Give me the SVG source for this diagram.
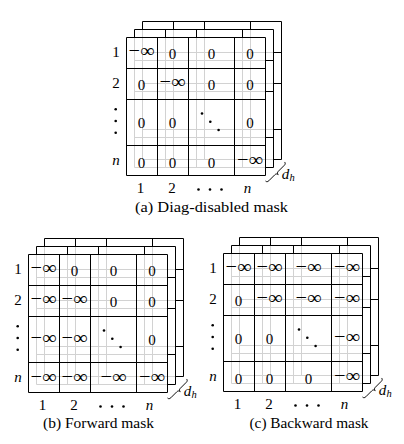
<svg xmlns="http://www.w3.org/2000/svg" width="404" height="444" viewBox="0 0 404 444" font-family="Liberation Serif, serif">
<style>
.k{fill:none;stroke:#000;stroke-width:1}
.g{fill:none;stroke:#d2d2d2;stroke-width:1}
.w{fill:#fff;stroke:none}
text{font-family:"Liberation Serif",serif}
.t{font-size:15px;text-anchor:middle;fill:#000}
.m{font-size:19px}
.i{font-style:italic}
.s{font-size:10.5px;text-anchor:start}
.cap{font-size:15.5px}
.br{fill:none;stroke:#000;stroke-width:0.9}
</style>
<defs>
<rect id="box" x="0.5" y="0.5" width="139" height="138"/>
<path id="grid" d="M0.5 0.5H139.5V138.5H0.5Z M31.5 0.5V138.5 M62.5 0.5V138.5 M108.5 0.5V138.5 M0.5 31.5H139.5 M0.5 62.5H139.5 M0.5 108.5H139.5"/>
<clipPath id="clip" clipPathUnits="userSpaceOnUse"><rect x="0" y="0" width="140" height="139"/></clipPath>
<g id="stack">
  <use href="#grid" class="k" transform="translate(16,-16)"/>
  <g transform="translate(8,-8)">
    <use href="#box" class="w"/>
    <g clip-path="url(#clip)"><use href="#grid" class="g" transform="translate(8,-8)"/></g>
    <use href="#grid" class="k"/>
  </g>
  <use href="#box" class="w"/>
  <g clip-path="url(#clip)">
    <use href="#grid" class="g" transform="translate(16,-16)"/>
    <use href="#grid" class="g" transform="translate(8,-8)"/>
  </g>
  <use href="#grid" class="k"/>
</g>
<g id="axes">
  <text class="t" x="-10" y="20">1</text>
  <text class="t" x="-10" y="51">2</text>
  <circle cx="-10.3" cy="72.3" r="1.3"/><circle cx="-10.3" cy="84" r="1.3"/><circle cx="-10.3" cy="95.7" r="1.3"/>
  <text class="t i" x="-10" y="128">n</text>
  <text class="t" x="14.5" y="156">1</text>
  <text class="t" x="46" y="156">2</text>
  <circle cx="72.5" cy="152.5" r="1.3"/><circle cx="84" cy="152.5" r="1.3"/><circle cx="95.5" cy="152.5" r="1.3"/>
  <text class="t i" x="121.5" y="156">n</text>
  <circle cx="76" cy="76.5" r="1.3"/><circle cx="84.3" cy="84.8" r="1.3"/><circle cx="92.6" cy="93" r="1.3"/>
  <path class="br" transform="translate(139.5,144) rotate(-45)" d="M0 0C0 1.5 1 2.2 2.5 2.2L11 2.2C12.5 2.2 13.4 3 13.45 4.5C13.5 3 14.4 2.2 15.9 2.2L24.4 2.2C25.9 2.2 26.9 1.5 26.9 0"/>
  <text class="t i" x="159.5" y="141.5">d</text>
  <text class="t i s" x="163.5" y="144">h</text>
</g>
</defs>

<g id="panel-a" transform="translate(126,37)">
  <use href="#stack"/>
  <use href="#axes"/>
  <g id="cells-a">
    <text class="t m" x="15.5" y="20.3" textLength="26" lengthAdjust="spacingAndGlyphs">−∞</text>
    <text class="t" x="46.5" y="21.5">0</text><text class="t" x="85.5" y="21.5">0</text><text class="t" x="124" y="21.5">0</text>
    <text class="t" x="15.5" y="52.5">0</text>
    <text class="t m" x="46.5" y="51.3" textLength="26" lengthAdjust="spacingAndGlyphs">−∞</text>
    <text class="t" x="85.5" y="52.5">0</text><text class="t" x="124" y="52.5">0</text>
    <text class="t" x="15.5" y="91">0</text><text class="t" x="46.5" y="91">0</text><text class="t" x="124" y="91">0</text>
    <text class="t" x="15.5" y="131">0</text><text class="t" x="46.5" y="131">0</text><text class="t" x="85.5" y="131">0</text>
    <text class="t m" x="124" y="128.8" textLength="26" lengthAdjust="spacingAndGlyphs">−∞</text>
  </g>
</g>
<text id="cap-a" class="t cap" x="211.5" y="211.5" textLength="153" lengthAdjust="spacingAndGlyphs">(a) Diag-disabled mask</text>

<g id="panel-b" transform="translate(28,254)">
  <use href="#stack"/>
  <use href="#axes"/>
  <g id="cells-b">
    <text class="t m" x="15.5" y="20.3" textLength="26" lengthAdjust="spacingAndGlyphs">−∞</text>
    <text class="t" x="46.5" y="21.5">0</text><text class="t" x="85.5" y="21.5">0</text><text class="t" x="124" y="21.5">0</text>
    <text class="t m" x="15.5" y="51.3" textLength="26" lengthAdjust="spacingAndGlyphs">−∞</text>
    <text class="t m" x="46.5" y="51.3" textLength="26" lengthAdjust="spacingAndGlyphs">−∞</text>
    <text class="t" x="85.5" y="52.5">0</text><text class="t" x="124" y="52.5">0</text>
    <text class="t m" x="15.5" y="89.8" textLength="26" lengthAdjust="spacingAndGlyphs">−∞</text>
    <text class="t m" x="46.5" y="89.8" textLength="26" lengthAdjust="spacingAndGlyphs">−∞</text>
    <text class="t" x="124" y="91">0</text>
    <text class="t m" x="15.5" y="128.8" textLength="26" lengthAdjust="spacingAndGlyphs">−∞</text>
    <text class="t m" x="46.5" y="128.8" textLength="26" lengthAdjust="spacingAndGlyphs">−∞</text>
    <text class="t m" x="85.5" y="128.8" textLength="26" lengthAdjust="spacingAndGlyphs">−∞</text>
    <text class="t m" x="124" y="128.8" textLength="26" lengthAdjust="spacingAndGlyphs">−∞</text>
  </g>
</g>
<text id="cap-b" class="t cap" x="98.5" y="428" textLength="111" lengthAdjust="spacingAndGlyphs">(b) Forward mask</text>

<g id="panel-c" transform="translate(223,253)">
  <use href="#stack"/>
  <use href="#axes"/>
  <g id="cells-c">
    <text class="t m" x="15.5" y="20.3" textLength="26" lengthAdjust="spacingAndGlyphs">−∞</text>
    <text class="t m" x="46.5" y="20.3" textLength="26" lengthAdjust="spacingAndGlyphs">−∞</text>
    <text class="t m" x="85.5" y="20.3" textLength="26" lengthAdjust="spacingAndGlyphs">−∞</text>
    <text class="t m" x="124" y="20.3" textLength="26" lengthAdjust="spacingAndGlyphs">−∞</text>
    <text class="t" x="15.5" y="52.5">0</text>
    <text class="t m" x="46.5" y="51.3" textLength="26" lengthAdjust="spacingAndGlyphs">−∞</text>
    <text class="t m" x="85.5" y="51.3" textLength="26" lengthAdjust="spacingAndGlyphs">−∞</text>
    <text class="t m" x="124" y="51.3" textLength="26" lengthAdjust="spacingAndGlyphs">−∞</text>
    <text class="t" x="15.5" y="91">0</text><text class="t" x="46.5" y="91">0</text>
    <text class="t m" x="124" y="89.8" textLength="26" lengthAdjust="spacingAndGlyphs">−∞</text>
    <text class="t" x="15.5" y="131">0</text><text class="t" x="46.5" y="131">0</text><text class="t" x="85.5" y="131">0</text>
    <text class="t m" x="124" y="128.8" textLength="26" lengthAdjust="spacingAndGlyphs">−∞</text>
  </g>
</g>
<text id="cap-c" class="t cap" x="309" y="428" textLength="119" lengthAdjust="spacingAndGlyphs">(c) Backward mask</text>
</svg>
